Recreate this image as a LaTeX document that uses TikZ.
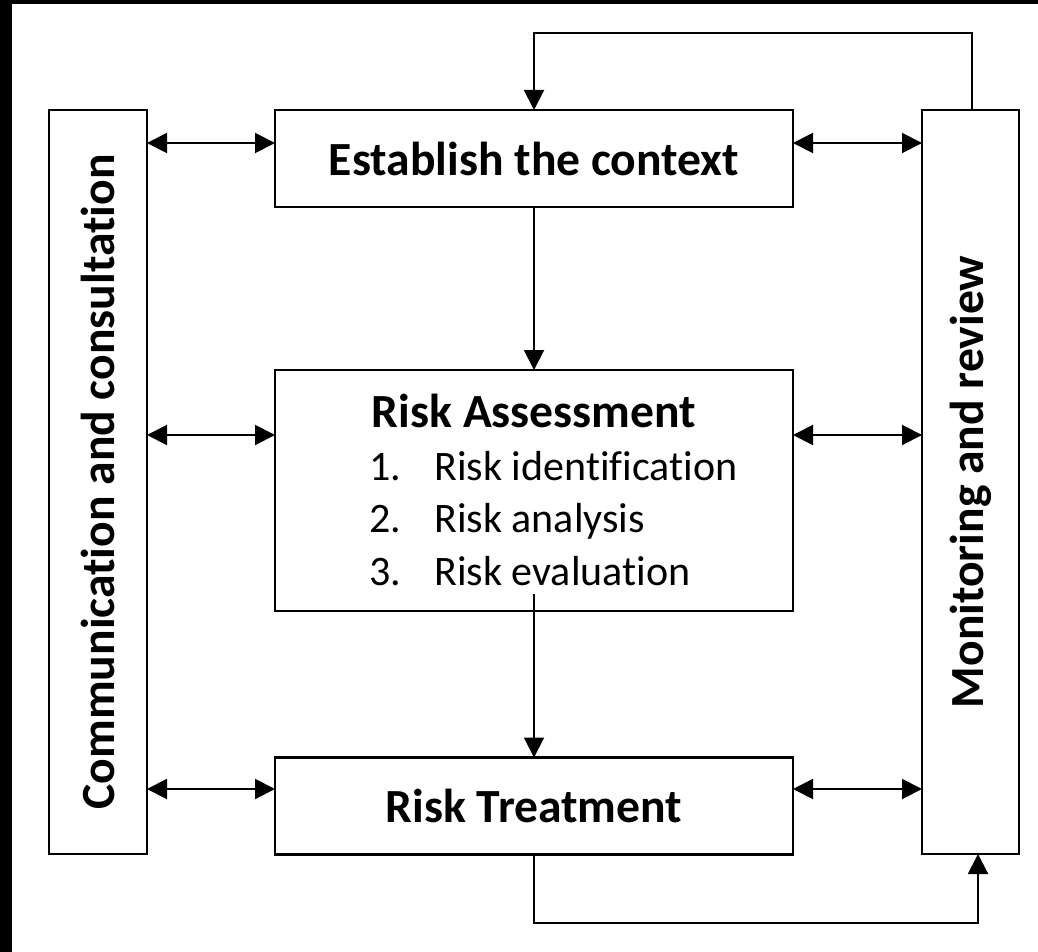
\documentclass[tikz,border=0pt]{standalone}
\usepackage{fontspec}
\setmainfont{Carlito}[Ligatures={NoCommon,NoRequired,NoContextual}]
\usetikzlibrary{arrows.meta,positioning,calc}

\tikzset{
  block/.style={draw, line width=1.2pt, inner sep=0pt, outer sep=0pt,
    minimum width=259pt, minimum height=48.5pt,
    font=\fontsize{23.8}{28}\selectfont\bfseries},
  side/.style={draw, line width=1.2pt, inner sep=0pt, outer sep=0pt,
    minimum width=49pt, minimum height=372pt,
    font=\fontsize{23.8}{28}\selectfont\bfseries},
  flow/.style={line width=1pt, -{Triangle[length=10pt,width=10pt]}},
  both/.style={line width=1pt, {Triangle[length=10pt,width=10pt]}-{Triangle[length=10pt,width=10pt]}},
}

\begin{document}
\begin{tikzpicture}[x=0.5pt, y=-0.5pt]

	% Frame
	\fill[black] (0,0) rectangle (1038,952);
	\fill[white] (12,4) rectangle (1038,952);

	% Main steps
	\node[block] (establish) at (534,158.5) {Establish the context};
	\node[block, minimum height=120.5pt] (assess) at (534,490.5) {};
	\node[anchor=base, font=\fontsize{23.8}{28}\selectfont\bfseries] (assess title) at (534,427) {Risk Assessment};
	\node[anchor=base west, inner sep=0pt, font=\fontsize{21}{26.25}\selectfont] (assess steps) at (369,480)
		{\begin{tabular}[t]{@{}p{32.5pt}@{}l@{}}
			1. & Risk identification\\
			2. & Risk analysis\\
			3. & Risk evaluation
		\end{tabular}};
	\node[block] (treat) at (534,806) {Risk Treatment};

	% Side bars
	\node[side] (comm) at (98,482) {\rotatebox{90}{Communication and consultation}};
	\node[side, minimum width=48.5pt] (monitor) at (970.5,482) {\rotatebox{90}{Monitoring and review}};

	% Flow
	\draw[flow] (establish) -- (assess);
	\draw[flow] ([yshift=8.5pt]assess.south) -- (treat);

	% Loops
	\coordinate (loop top) at (972,33);
	\coordinate (loop bottom) at (978,923);
	\draw[flow] (monitor.north -| loop top) -- (loop top) -| (establish.north);
	\draw[flow] (treat.south) |- (loop bottom) -- (loop bottom |- monitor.south);

	% Links to the side bars
	\foreach \blk/\dy in {establish/7.75pt, assess/27.75pt, treat/8.5pt} {
		\draw[both] ([yshift=\dy]\blk.west -| comm.east) -- ([yshift=\dy]\blk.west);
		\draw[both] ([yshift=\dy]\blk.east) -- ([yshift=\dy]\blk.east -| monitor.west);
	}
\end{tikzpicture}
\end{document}
